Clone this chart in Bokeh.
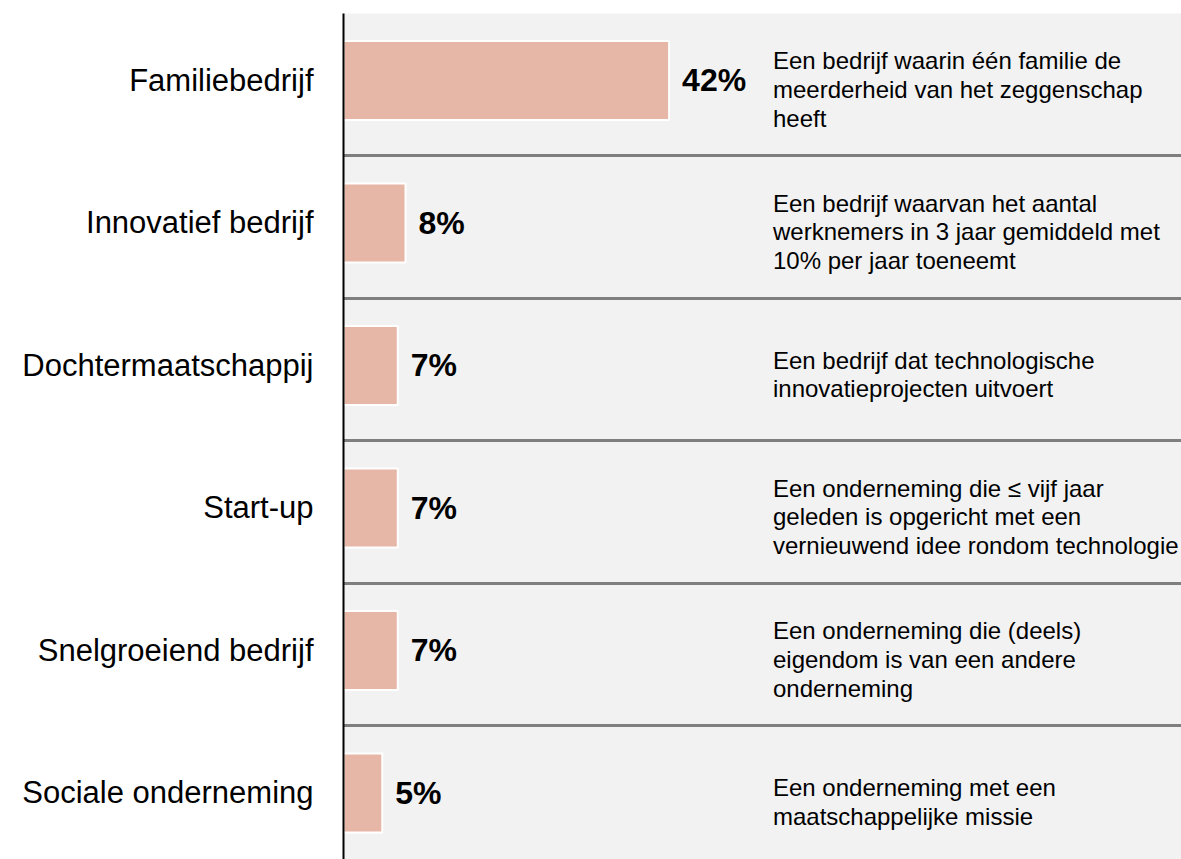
from bokeh.plotting import figure
from bokeh.models import Range1d, FixedTicker, ColumnDataSource
from bokeh.core.properties import value
from bokeh.embed import file_html
from bokeh.resources import INLINE

categories = ["Familiebedrijf", "Innovatief bedrijf", "Dochtermaatschappij",
              "Start-up", "Snelgroeiend bedrijf", "Sociale onderneming"]
values = [42, 8, 7, 7, 7, 5]
descriptions = [
    "Een bedrijf waarin één familie de\nmeerderheid van het zeggenschap\nheeft",
    "Een bedrijf waarvan het aantal\nwerknemers in 3 jaar gemiddeld met\n10% per jaar toeneemt",
    "Een bedrijf dat technologische\ninnovatieprojecten uitvoert",
    "Een onderneming die ≤ vijf jaar\ngeleden is opgericht met een\nvernieuwend idee rondom technologie",
    "Een onderneming die (deels)\neigendom is van een andere\nonderneming",
    "Een onderneming met een\nmaatschappelijke missie",
]

idx = list(range(len(categories)))
labels = [f"{v}%" for v in values]

FONT = "Liberation Sans"
DESC_X = 55.4

src = ColumnDataSource(dict(y=idx, v=values, lab=labels, desc=descriptions,
                            dx=[DESC_X] * len(idx)))

p = figure(width=1181, height=859, output_backend="svg", toolbar_location=None,
           x_range=Range1d(0, 108.1), y_range=Range1d(5.467, -0.470),
           min_border_left=343, min_border_right=0, min_border_top=13,
           min_border_bottom=0)

p.background_fill_color = "#F2F2F2"
p.border_fill_color = "white"
p.outline_line_color = None

p.hbar(y="y", left=0, right="v", height=0.554, source=src,
       fill_color="#E6B7A7", line_color="white", line_width=2)

p.text(x="v", y="y", text="lab", source=src, x_offset=13,
       text_baseline="middle", text_align="left",
       text_font=value(FONT), text_font_size="32px", text_font_style="bold",
       text_color="black")

p.text(x="dx", y="y", text="desc", source=src, y_offset=9,
       text_baseline="middle", text_align="left", text_line_height=1.07,
       text_font=value(FONT), text_font_size="24px", text_color="black")

p.xaxis.visible = False
p.xgrid.visible = False

yax = p.yaxis[0]
yax.ticker = FixedTicker(ticks=idx)
yax.major_label_overrides = {i: c for i, c in zip(idx, categories)}
yax.major_label_text_font = FONT
yax.major_label_text_font_size = "31px"
yax.major_label_text_color = "black"
yax.major_label_standoff = 24
yax.major_tick_line_color = None
yax.minor_tick_line_color = None
yax.axis_line_color = "black"
yax.axis_line_width = 2

p.ygrid.ticker = FixedTicker(ticks=[i + 0.53 for i in idx[:-1]])
p.ygrid.grid_line_color = "#7F7F7F"
p.ygrid.grid_line_width = 3

open("out.html", "w").write(file_html(p, INLINE))
